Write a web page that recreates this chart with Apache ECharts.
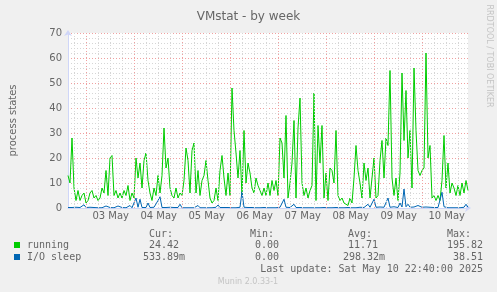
<!DOCTYPE html>
<html><head><meta charset="utf-8">
<script src="https://cdn.jsdelivr.net/npm/echarts@6/dist/echarts.min.js"></script>
<style>html,body{margin:0;padding:0;background:#f0f0f0}#c{width:497px;height:292px}</style>
</head><body><div id="c"></div>
<script>
// time axis: hours since May 2 00:00; samples hourly from May 2 14:40 to May 10 22:40
const startHour = 14 + 40 / 60;
const endHour = startHour + 200;
const dayLabels = ['03 May', '04 May', '05 May', '06 May', '07 May', '08 May', '09 May', '10 May'];
const yTicks = [0, 10, 20, 30, 40, 50, 60, 70];

const running = [
  13, 10, 28, 8, 3, 7, 3, 5, 6, 2,
  3, 6, 7, 4, 5, 3, 4, 8, 6, 15,
  5, 20, 21, 5, 7, 4, 6, 4, 7, 5,
  9, 3, 6, 4, 20, 12, 18, 8, 19, 22,
  11, 6, 3, 8, 5, 13, 6, 13, 32, 16,
  20, 8, 5, 4, 8, 4, 6, 5, 11, 24,
  19, 6, 23, 26, 6, 15, 5, 11, 13, 19,
  11, 4, 2, 3, 8, 3, 15, 21, 12, 5,
  14, 5, 48, 31, 22, 12, 23, 5, 31, 10,
  18, 14, 8, 6, 12, 9, 7, 5, 8, 5,
  10, 5, 11, 7, 11, 5, 28, 26, 12, 37,
  4, 10, 18, 35, 4, 32, 44, 10, 5, 8,
  4, 7, 9, 46, 3, 33, 18, 33, 4, 14,
  3, 16, 15, 10, 31, 5, 3, 4, 2, 2,
  1, 4, 2, 12, 25, 15, 10, 4, 18, 11,
  16, 4, 12, 20, 4, 5, 19, 27, 12, 28,
  25, 55, 12, 5, 12, 3, 14, 54, 27, 47,
  20, 31, 8, 56, 31, 15, 13, 15, 16, 62,
  20, 25, 4, 5, 3, 5, 3, 11, 29, 8,
  18, 6, 10, 8, 5, 9, 5, 10, 6, 11,
  7
];
const ioSleep = [
  0.2, 1.0, 0.2, 0.1, 0.3, 0.1, 0.2, 0.1, 1.3, 0.2,
  0.1, 0.3, 0.1, 0.2, 0.1, 0.1, 0.2, 0.1, 0.3, 0.8,
  0.1, 0.2, 0.1, 0.1, 0.3, 0.8, 0.1, 0.2, 0.1, 0.1,
  0.2, 1.0, 0.1, 0.3, 4.0, 0.3, 3.5, 0.2, 0.4, 0.2,
  2.0, 0.2, 0.1, 0.3, 0.2, 3.0, 4.5, 0.2, 0.1, 0.2,
  0.1, 0.3, 0.1, 0.2, 0.1, 0.2, 1.5, 0.1, 0.2, 0.1,
  0.2, 0.1, 0.3, 0.1, 0.2, 1.0, 0.1, 0.2, 0.1, 0.3,
  0.1, 0.2, 0.1, 0.1, 0.3, 1.2, 0.2, 0.1, 0.2, 0.1,
  0.2, 0.8, 0.1, 0.2, 0.1, 0.2, 0.3, 6.5, 0.3, 0.1,
  0.2, 0.1, 0.2, 0.8, 0.1, 0.2, 0.1, 0.1, 0.2, 0.1,
  0.1, 0.2, 0.1, 0.2, 0.1, 0.1, 0.3, 0.4, 3.5, 0.3,
  0.1, 0.2, 0.1, 1.5, 0.2, 0.1, 0.2, 0.1, 0.1, 0.2,
  0.1, 0.2, 0.1, 0.5, 0.1, 0.2, 0.1, 0.1, 0.2, 0.1,
  0.1, 0.2, 0.1, 0.1, 0.2, 0.1, 0.1, 0.2, 0.1, 0.1,
  0.2, 0.1, 0.1, 0.2, 0.1, 0.2, 0.3, 0.1, 0.2, 0.4,
  1.5, 0.3, 0.5, 3.5, 0.3, 0.2, 0.4, 0.2, 0.3, 0.5,
  4.0, 0.3, 0.2, 0.5, 0.3, 0.2, 2.0, 0.4, 7.6, 0.5,
  1.5, 0.3, 0.2, 0.4, 0.3, 1.0, 0.2, 0.3, 0.2, 0.4,
  0.2, 0.3, 0.1, 0.2, 0.1, 0.2, 0.5, 6.3, 0.5, 0.2,
  0.1, 0.2, 0.1, 0.2, 0.1, 0.2, 0.1, 0.2, 0.3, 1.5,
  0.3
];
const seriesNames = ['running', 'I/O sleep'];
const seriesColors = ['#00cc00', '#0066b3'];
const statHeaders = ['Cur:', 'Min:', 'Avg:', 'Max:'];
const statsRunning = ['24.42', '0.00', '11.71', '195.82'];
const statsIoSleep = ['533.89m', '0.00', '298.32m', '38.51'];
const lastUpdate = 'Last update: Sat May 10 22:40:00 2025';

const FONT = '#666666';
const MAJOR = '#f0a0a0';
const MINOR = '#d6d6d6';
const AXIS = '#cfd6f8';

const toPairs = arr => arr.map((v, i) => [startHour + i, v]);

// vertical grid: every 6h, red at midnight
const gridLines = [];
for (let h = Math.ceil(startHour / 6) * 6; h < endHour; h += 6) {
  gridLines.push({ xAxis: h, lineStyle: { color: h % 24 === 0 ? MAJOR : MINOR, type: [1, 2], width: 1 } });
}
// day labels centred at noon
const noonHours = dayLabels.map((lab, i) => 24 * (i + 1) + 12);

const mono = '10px "DejaVu Sans Mono"';
const colX = [149, 250, 348, 447];
const row1X = [149, 255, 348, 447];
const row2X = [143, 255, 343, 453];
const graphics = [
  { type: 'text', x: 489, y: 56, rotation: -Math.PI / 2,
    style: { text: 'RRDTOOL / TOBI OETIKER', font: '8px "DejaVu Sans"', fill: '#c4c4c4', align: 'center', verticalAlign: 'middle' } },
  { type: 'rect', shape: { x: 14, y: 242, width: 6, height: 6 }, style: { fill: seriesColors[0] } },
  { type: 'rect', shape: { x: 14, y: 254, width: 6, height: 6 }, style: { fill: seriesColors[1] } },
  { type: 'text', x: 27, y: 245.5, style: { text: seriesNames[0], font: mono, fill: FONT, align: 'left', verticalAlign: 'middle' } },
  { type: 'text', x: 27, y: 257.5, style: { text: seriesNames[1], font: mono, fill: FONT, align: 'left', verticalAlign: 'middle' } },
  { type: 'text', x: 483, y: 269.5, style: { text: lastUpdate, font: mono, fill: FONT, align: 'right', verticalAlign: 'middle' } },
  { type: 'text', x: 248, y: 281.5, style: { text: 'Munin 2.0.33-1', font: '8px "DejaVu Sans"', fill: '#c4c4c4', align: 'center', verticalAlign: 'middle' } }
];
statHeaders.forEach((t, i) => graphics.push({ type: 'text', x: colX[i], y: 234, style: { text: t, font: mono, fill: FONT, align: 'left', verticalAlign: 'middle' } }));
statsRunning.forEach((t, i) => graphics.push({ type: 'text', x: row1X[i], y: 245.5, style: { text: t, font: mono, fill: FONT, align: 'left', verticalAlign: 'middle' } }));
statsIoSleep.forEach((t, i) => graphics.push({ type: 'text', x: row2X[i], y: 257.5, style: { text: t, font: mono, fill: FONT, align: 'left', verticalAlign: 'middle' } }));

const chart = echarts.init(document.getElementById('c'), null, { renderer: 'canvas' });
chart.setOption({
  animation: false,
  backgroundColor: '#f0f0f0',
  title: { text: 'VMstat - by week', left: 'center', top: 6,
    textStyle: { fontSize: 12, fontWeight: 'normal', color: FONT, fontFamily: 'DejaVu Sans' } },
  grid: { left: 66, right: 29, top: 33, bottom: 84, show: true, backgroundColor: '#ffffff', borderWidth: 0 },
  xAxis: {
    type: 'value', min: startHour, max: endHour,
    axisLine: { show: true, onZero: false, lineStyle: { color: AXIS, width: 1 }, symbol: ['none', 'arrow'], symbolSize: [6, 6], symbolOffset: [0, 3] },
    axisTick: { show: false },
    axisLabel: {
      show: true, customValues: noonHours, margin: 3, color: FONT, fontSize: 10, fontFamily: 'DejaVu Sans',
      formatter: v => dayLabels[noonHours.indexOf(v)] || ''
    },
    splitLine: { show: false }
  },
  yAxis: {
    type: 'value', min: yTicks[0], max: yTicks[yTicks.length - 1], interval: 10,
    name: 'process states', nameLocation: 'middle', nameGap: 50,
    nameTextStyle: { color: FONT, fontSize: 10, fontFamily: 'DejaVu Sans' },
    axisLine: { show: true, lineStyle: { color: AXIS, width: 1 }, symbol: ['none', 'arrow'], symbolSize: [6, 6], symbolOffset: [0, 3] },
    axisTick: { show: false },
    axisLabel: { color: FONT, fontSize: 10, fontFamily: 'DejaVu Sans', margin: 6 },
    splitLine: { show: true, lineStyle: { color: MAJOR, type: [1, 2], width: 1 } },
    minorTick: { show: false, splitNumber: 5 },
    minorSplitLine: { show: true, lineStyle: { color: MINOR, type: [1, 2], width: 1 } }
  },
  graphic: graphics,
  series: [
    { type: 'line', name: 'grid', data: [], z: 1, silent: true, clip: false,
      markLine: { silent: true, symbol: ['none', 'none'], animation: false, label: { show: false }, emphasis: { disabled: true }, data: gridLines } },
    { type: 'line', name: seriesNames[0], data: toPairs(running), showSymbol: false, z: 3,
      lineStyle: { color: seriesColors[0], width: 1 }, itemStyle: { color: seriesColors[0] } },
    { type: 'line', name: seriesNames[1], data: toPairs(ioSleep), showSymbol: false, z: 4,
      lineStyle: { color: seriesColors[1], width: 1 }, itemStyle: { color: seriesColors[1] } }
  ]
});
</script></body></html>
